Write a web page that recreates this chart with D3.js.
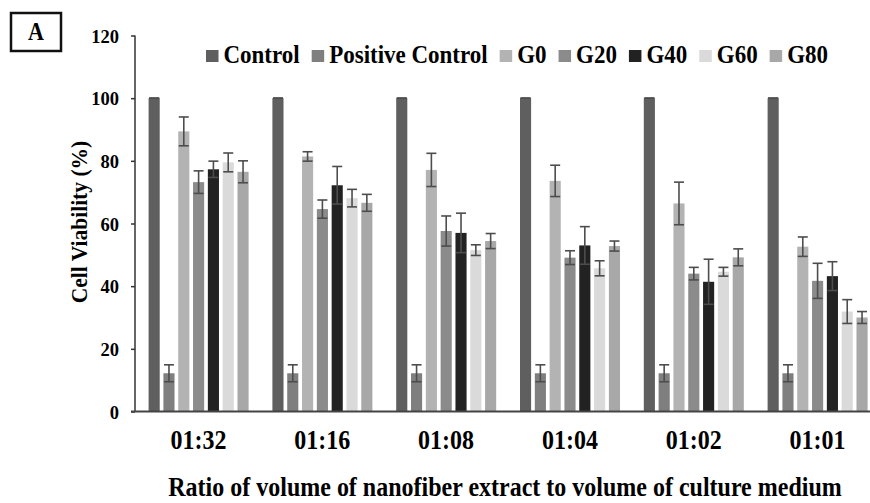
<!DOCTYPE html>
<html>
<head>
  <meta charset="utf-8">
  <title>Cell Viability</title>
  <script src="https://d3js.org/d3.v7.min.js"></script>
  <style>
    body { margin: 0; background: #fff; }
  </style>
</head>
<body>
  <svg id="chart"></svg>

  <script>
    // categories and series
    var categories = ["01:32", "01:16", "01:08", "01:04", "01:02", "01:01"];
    var series = ["Control", "Positive Control", "G0", "G20", "G40", "G60", "G80"];
    var colors = ["#5f5f5f", "#7f7f7f", "#b3b3b3", "#8b8b8b", "#222222", "#dadada", "#a8a8a8"];

    // mean values (%)
    var control  = [100, 100, 100, 100, 100, 100];
    var positive = [12.2, 12.2, 12.2, 12.2, 12.2, 12.2];
    var g0  = [89.4, 81.4, 77.1, 73.6, 66.4, 52.6];
    var g20 = [73.2, 64.6, 57.6, 49.1, 44.0, 41.7];
    var g40 = [77.3, 72.2, 57.0, 53.0, 41.4, 43.2];
    var g60 = [79.5, 68.1, 51.5, 45.7, 44.6, 31.9];
    var g80 = [76.5, 66.6, 54.4, 52.8, 49.2, 30.0];

    // error bars (+/-)
    var controlErr  = [0, 0, 0, 0, 0, 0];
    var positiveErr = [2.7, 2.7, 2.7, 2.7, 2.7, 2.7];
    var g0Err  = [4.6, 1.5, 5.3, 5.0, 6.8, 3.1];
    var g20Err = [3.6, 2.9, 4.8, 2.2, 2.0, 5.6];
    var g40Err = [2.6, 6.0, 6.3, 6.0, 7.2, 4.6];
    var g60Err = [3.0, 2.8, 1.7, 2.4, 1.4, 3.8];
    var g80Err = [3.5, 2.7, 2.4, 1.6, 2.7, 1.9];

    var yTicks = [0, 20, 40, 60, 80, 100, 120];

    var allValues = [control, positive, g0, g20, g40, g60, g80];
    var allErrors = [controlErr, positiveErr, g0Err, g20Err, g40Err, g60Err, g80Err];

    var FONT = "'Liberation Serif', 'DejaVu Serif', serif";
    var STRETCH = 1.1; // the original text is a bit taller than wide
    var width = 870, height = 503;

    var svg = d3.select("#chart")
      .attr("width", width)
      .attr("height", height);

    function label(parent, x, y, txt, size, anchor) {
      var g = parent.append("g")
        .attr("transform", "translate(" + x + "," + y + ") scale(1," + STRETCH + ")");
      return g.append("text")
        .attr("text-anchor", anchor || "start")
        .style("font-family", FONT).style("font-weight", "bold")
        .style("font-size", size + "px").style("fill", "#000")
        .text(txt);
    }

    // scales
    var x0 = d3.scaleBand()
      .domain(categories)
      .range([136.6, 879.4]);

    var x1 = d3.scaleBand()
      .domain(series)
      .range([12, 112])
      .paddingInner(0.25);

    var y = d3.scaleLinear()
      .domain([0, 120])
      .range([411.5, 35.5]);

    var color = d3.scaleOrdinal().domain(series).range(colors);

    // flatten to rows
    var rows = [];
    categories.forEach(function(c, ci) {
      series.forEach(function(s, si) {
        rows.push({ cat: c, ser: s, value: allValues[si][ci], err: allErrors[si][ci] });
      });
    });

    // bars
    svg.append("g").selectAll("rect")
      .data(rows)
      .enter()
      .append("rect")
      .attr("x", function(d) { return x0(d.cat) + x1(d.ser); })
      .attr("y", function(d) { return y(d.value); })
      .attr("width", x1.bandwidth())
      .attr("height", function(d) { return y(0) - y(d.value); })
      .attr("fill", function(d) { return color(d.ser); });

    // error bars
    var eb = svg.append("g")
      .attr("stroke", "#4d4d4d")
      .attr("stroke-width", 1.6)
      .selectAll("g")
      .data(rows)
      .enter()
      .append("g")
      .attr("transform", function(d) {
        return "translate(" + (x0(d.cat) + x1(d.ser) + x1.bandwidth() / 2) + ",0)";
      });

    eb.append("line")
      .attr("y1", function(d) { return y(d.value - d.err); })
      .attr("y2", function(d) { return y(d.value + d.err); });
    eb.append("line")
      .attr("x1", -5).attr("x2", 5)
      .attr("y1", function(d) { return y(d.value + d.err); })
      .attr("y2", function(d) { return y(d.value + d.err); });
    eb.append("line")
      .attr("x1", -5).attr("x2", 5)
      .attr("y1", function(d) { return y(d.value - d.err); })
      .attr("y2", function(d) { return y(d.value - d.err); });

    // y axis
    var yAxis = svg.append("g")
      .attr("transform", "translate(135,0)")
      .call(d3.axisLeft(y).tickValues(yTicks).tickSize(4).tickPadding(12));
    yAxis.attr("font-family", null);
    yAxis.select(".domain").attr("stroke", "#333").attr("stroke-width", 1.5)
      .attr("d", "M0," + y(120) + "V" + y(0));
    yAxis.selectAll(".tick line").attr("stroke", "#333").attr("stroke-width", 1.5);
    yAxis.selectAll(".tick text")
      .attr("dy", "0.36em")
      .style("font-family", FONT).style("font-weight", "bold")
      .style("font-size", "18.5px").style("fill", "#000");

    // x axis
    var xAxis = svg.append("g")
      .attr("transform", "translate(0," + y(0) + ")")
      .call(d3.axisBottom(x0).tickSize(0).tickPadding(0));
    xAxis.attr("font-family", null);
    xAxis.select(".domain").attr("stroke", "#444").attr("stroke-width", 2)
      .attr("d", "M131,0H870");
    xAxis.selectAll(".tick text")
      .attr("dy", null)
      .attr("y", 37.5)
      .attr("transform", "scale(1," + STRETCH + ")")
      .style("font-family", FONT).style("font-weight", "bold")
      .style("font-size", "24px").style("fill", "#000");
    xAxis.selectAll(".tick text").attr("y", 37.5 / STRETCH);

    // axis titles
    svg.append("text")
      .attr("transform", "translate(87,222) rotate(-90) scale(1," + STRETCH + ")")
      .attr("text-anchor", "middle")
      .style("font-family", FONT).style("font-weight", "bold")
      .style("font-size", "21.5px")
      .text("Cell Viability (%)");

    label(svg, 505, 496, "Ratio of volume of nanofiber extract to volume of culture medium", 24, "middle");

    // legend
    var legend = svg.append("g");
    var lx = 206;
    series.forEach(function(s) {
      legend.append("rect")
        .attr("x", lx).attr("y", 50)
        .attr("width", 12.5).attr("height", 12)
        .attr("fill", color(s));
      var t = label(legend, lx + 17.5, 63, s, 23);
      lx += 17.5 + t.node().getComputedTextLength() + 12;
    });

    // panel label
    svg.append("rect")
      .attr("x", 11).attr("y", 13)
      .attr("width", 50).attr("height", 38)
      .attr("fill", "none")
      .attr("stroke", "#111")
      .attr("stroke-width", 2.5);
    label(svg, 36, 40, "A", 22, "middle");
  </script>
</body>
</html>
